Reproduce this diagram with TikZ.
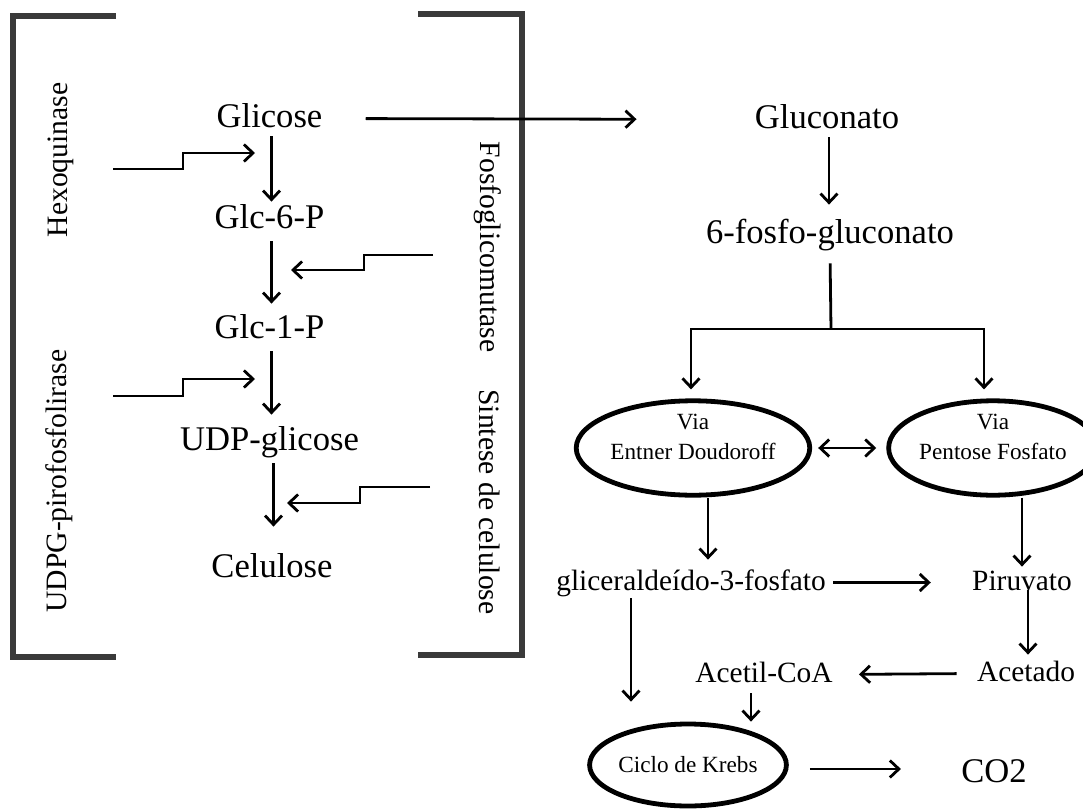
\documentclass[tikz,border=0pt]{standalone}
\usepackage{fontspec}
\setmainfont{Liberation Serif}
\usetikzlibrary{arrows.meta,shapes.geometric}
\definecolor{colch}{HTML}{3A3A3A}

\begin{document}
\begin{tikzpicture}[x=0.5pt,y=-0.5pt,
		gde/.style={anchor=base,inner sep=1pt,text height=12pt,text depth=3.5pt,font=\fontsize{17.3}{20}\selectfont},
		med/.style={anchor=base,inner sep=1pt,text height=10.5pt,text depth=3pt,font=\fontsize{14.7}{17}\selectfont},
		enz/.style={anchor=base,inner sep=0pt,font=\fontsize{14.8}{17}\selectfont},
		via/.style={ellipse,draw,line width=2.4pt,inner sep=0pt,align=center,font=\fontsize{11.6}{15}\selectfont},
		seta/.style={line width=1.4pt,-{Straight Barb[length=4.5pt,width=8.5pt,line width=1.4pt]}},
		seta2/.style={line width=1.4pt,{Straight Barb[length=4.5pt,width=8.5pt,line width=1.4pt]}-{Straight Barb[length=4.5pt,width=8.5pt,line width=1.4pt]}},
		linha/.style={line width=1.4pt},
		colchete/.style={line width=2.6pt,draw=colch}]
	\useasboundingbox (0,0) rectangle (1083,809);

	\draw[colchete] (116,16) -- (13,16) -- (13,657) -- (116,657);
	\draw[colchete] (418,14) -- (522,14) -- (522,655) -- (418,655);

	\node[gde] (glic) at (269.5,127) {Glicose};
	\node[gde] (g6p) at (269.5,228) {Glc-6-P};
	\node[gde] (g1p) at (269.5,338) {Glc-1-P};
	\node[gde] (udp) at (269.5,450) {UDP-glicose};
	\node[gde] (cel) at (272,577) {Celulose};

	\node[enz,rotate=90] (hexo) at (68,160) {Hexoquinase};
	\node[enz,rotate=90] (udpg) at (67,481) {UDPG-pirofosfolirase};
	\node[enz,rotate=-90] (fgm) at (480,247) {Fosfoglicomutase};
	\node[enz,rotate=-90] (sint) at (479,502) {Sintese de celulose};

	\node[gde] (glu) at (827,128) {Gluconato};
	\node[gde] (fglu) at (830,243) {6-fosfo-gluconato};
	\node[via,minimum width=91pt,minimum height=44.5pt,text depth=10.7pt] (ed) at (693,448) {Via\\Entner Doudoroff};
	\node[via,minimum width=89pt,minimum height=44.5pt,text depth=10.7pt] (pf) at (993,448) {Via\\Pentose Fosfato};
	\node[med] (gap) at (691,590) {gliceralde\'ido-3-fosfato};
	\node[med] (piru) at (1022,590) {Piruvato};
	\node[med] (acet) at (1026,681) {Acetado};
	\node[med] (acoa) at (764,682) {Acetil-CoA};
	\node[via,minimum width=92.5pt,minimum height=41pt] (krebs) at (688,765) {Ciclo de Krebs};
	\node[gde] (co2) at (994,782) {CO2};

	\coordinate (hx) at (113,169);
	\coordinate (hxf) at (255,153);
	\coordinate (ug) at (113,396);
	\coordinate (ugf) at (255,379);
	\coordinate (fg) at (433,255);
	\coordinate (fgf) at (291,270);
	\coordinate (sc) at (430,487);
	\coordinate (scf) at (287,503);
	\coordinate (bif) at (831,329);

	\draw[seta] ([xshift=1pt]glic.south) -- ([xshift=1pt]glic.south |- g6p.north);
	\draw[seta,shorten <=2pt,shorten >=4pt] ([xshift=1pt]g6p.south) -- ([xshift=1pt]g6p.south |- g1p.north);
	\draw[seta,shorten <=2pt,shorten >=4.5pt] ([xshift=1pt]g1p.south) -- ([xshift=1pt]g1p.south |- udp.north);
	\draw[seta,shorten <=2pt,shorten >=12pt] ([xshift=2pt]udp.south) -- ([xshift=2pt]udp.south |- cel.north);
	\draw[seta] (hx) -- ++(70,0) |- (hxf);
	\draw[seta] (ug) -- ++(70,0) |- (ugf);
	\draw[seta] (fg) -- ++(-69,0) |- (fgf);
	\draw[seta] (sc) -- ++(-70,0) |- (scf);
	\draw[seta,shorten <=20.5pt,shorten >=58pt] (glic.east) -- (glu.west);

	\draw[seta,shorten >=6pt] ([xshift=1pt]glu.south) -- ([xshift=1pt]glu.south |- fglu.north);
	\draw[linha,shorten <=5.5pt] (fglu.south) -- (bif);
	\draw[seta,shorten >=4.5pt] (bif) -| ([xshift=-1pt]ed.north);
	\draw[seta,shorten >=4.5pt] (bif) -| ([xshift=-4.5pt]pf.north);
	\draw[seta2,shorten <=3pt,shorten >=5pt] (ed.east) -- (pf.west);
	\draw[seta,shorten >=3.5pt] ([xshift=7.5pt]ed.south) -- ([xshift=7.5pt]ed.south |- gap.north);
	\draw[seta] (piru.north |- pf.south) -- (piru.north);
	\draw[seta,shorten <=2.5pt,shorten >=19.5pt] (gap.east) -- (piru.west);
	\draw[seta,shorten >=1.5pt] ([xshift=3pt]piru.base) -- ([xshift=3pt]piru.base |- acet.north);
	\draw[seta,shorten <=9pt,shorten >=12pt] (acet.west) -- (acoa.east);
	\draw[seta,shorten <=1.5pt] ([xshift=-6.5pt]acoa.south) -- ([xshift=-6.5pt]acoa.south |- krebs.north);
	\draw[seta,shorten >=10pt] ([xshift=-30pt]gap.south) -- ([xshift=-30pt]gap.south |- krebs.north);
	\draw[seta,shorten <=10.5pt,shorten >=29pt] ([yshift=-2pt]krebs.east) -- ([yshift=-2pt]krebs.east -| co2.west);
\end{tikzpicture}
\end{document}
